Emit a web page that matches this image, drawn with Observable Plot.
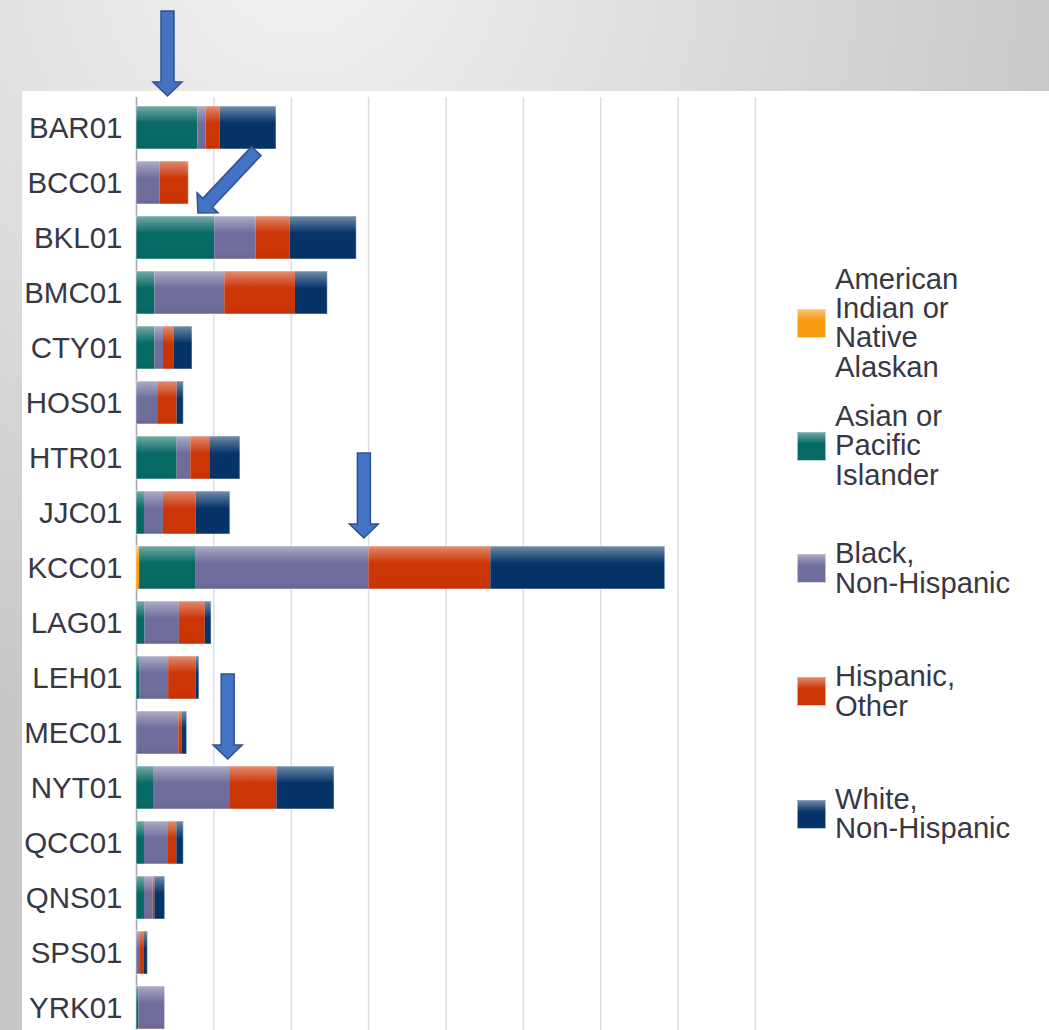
<!DOCTYPE html>
<html><head><meta charset="utf-8">
<script src="https://cdn.jsdelivr.net/npm/d3@7"></script>
<script src="https://cdn.jsdelivr.net/npm/@observablehq/plot@0.6"></script>
<style>
html,body{margin:0;padding:0;width:1049px;height:1030px;overflow:hidden;}
body{position:relative;background:radial-gradient(circle 1000px at 300px -50px,#f2f2f2 0%,#c7c7c7 80%);font-family:"Liberation Sans",Arial,sans-serif;}
#panel{position:absolute;left:22px;top:91px;right:0;bottom:0;background:#fff;}
#chart{position:absolute;left:0;top:0;}
#legend{position:absolute;left:797px;top:262px;}
.item{height:122.75px;display:flex;align-items:center;}
.sw{width:29px;height:29px;margin-right:9px;flex:none;box-sizing:border-box;border:1px solid rgba(255,255,255,.55);}
.lab{font-size:29.2px;line-height:29.4px;color:#383844;}
</style></head><body>
<div id="panel"></div><div id="chart"></div><div id="legend"></div>
<script>
// ---- data ----
const schools = ["BAR01","BCC01","BKL01","BMC01","CTY01","HOS01","HTR01","JJC01","KCC01","LAG01","LEH01","MEC01","NYT01","QCC01","QNS01","SPS01","YRK01"];
const groups = ["American Indian or Native Alaskan","Asian or Pacific Islander","Black, Non-Hispanic","Hispanic, Other","White, Non-Hispanic"];
const legendLines = [["American","Indian or","Native","Alaskan"],["Asian or","Pacific","Islander"],["Black,","Non-Hispanic"],["Hispanic,","Other"],["White,","Non-Hispanic"]];
const american = [0,0,0,0,0,0,0,0,40,0,0,0,0,0,0,0,0];
const asian    = [792,0,1012,237,237,0,525,103,732,110,40,0,220,103,103,0,30];
const black    = [108,306,534,904,112,284,177,245,2232,444,375,547,995,310,112,52,340];
const hispanic = [181,370,439,913,134,241,245,422,1575,335,358,43,599,108,22,43,0];
const white    = [728,0,861,418,241,86,396,443,2255,81,40,65,745,90,134,52,0];
const gridTicks = [0,1000,2000,3000,4000,5000,6000,7000,8000];
// annotation arrows: row pointed at, value on x, rotation
const arrowRows = ["BAR01","BKL01","KCC01","NYT01"];
const arrowValues = [407,801,2945,1185];
const arrowAngles = [0,43.3,0,0];

// ---- styles ----
const colors = ["#f99a0e","#086a65","#6e6d9c","#cc3505","#063468"];
const arrowGap = [-10,-3,-8,-7];

const series = [american, asian, black, hispanic, white];
const rows = [];
schools.forEach((s,i)=>groups.forEach((g,j)=>rows.push({school:s, group:g, value:series[j][i]})));
const totals = schools.map((s,i)=>({school:s, total:series.reduce((a,v)=>a+v[i],0)}));

function defsMark(){
  const defs = d3.create("svg:defs");
  const lg = defs.append("linearGradient").attr("id","shine").attr("x1",0).attr("y1",0).attr("x2",0).attr("y2",1);
  [[0,"#fff",0.45],[0.1,"#fff",0.32],[0.4,"#fff",0.0],[0.85,"#000",0.0],[1,"#000",0.06]].forEach(([o,c,a])=>
    lg.append("stop").attr("offset",o).attr("stop-color",c).attr("stop-opacity",a));
  return defs.node();
}
function arrowMark(index, scales){
  const g = d3.create("svg:g");
  const L=85, sw=6.5, hw=14.5, hl=14;
  const pts = [[0,0],[-hw,-hl],[-sw,-hl],[-sw,-L],[sw,-L],[sw,-hl],[hw,-hl]];
  arrowRows.forEach((r,i)=>{
    const tx = scales.x(arrowValues[i]), ty = scales.y(r) + arrowGap[i];
    g.append("polygon").attr("points", pts.map(p=>p.join(",")).join(" "))
      .attr("transform",`translate(${tx},${ty}) rotate(${arrowAngles[i]})`)
      .attr("fill","#4472c4").attr("stroke","#2f528f").attr("stroke-width",1.5).attr("stroke-linejoin","miter");
  });
  return g.node();
}

const plot = Plot.plot({
  width:1049, height:1037,
  marginLeft:136, marginRight:294, marginTop:97, marginBottom:0,
  style:{background:"transparent", overflow:"visible", fontFamily:"'Liberation Sans', Arial, sans-serif"},
  x:{domain:[0,8000], axis:null},
  y:{domain:schools, axis:null, paddingInner:0.22, paddingOuter:0.11},
  color:{domain:groups, range:colors},
  marks:[
    defsMark,
    Plot.ruleX(gridTicks.slice(1), {stroke:"#dedeea", strokeWidth:1.6}),
    Plot.ruleX([0], {stroke:"#a6a6bc", strokeWidth:1.6}),
    Plot.barX(rows, {x:"value", y:"school", fill:"group"}),
    Plot.barX(rows, {x:"value", y:"school", fill:"url(#shine)"}),
    Plot.barX(totals, {x:"total", y:"school", fill:"none", stroke:"#ffffff", strokeOpacity:0.5, strokeWidth:1}),
    Plot.text(schools, {x:0, y:d=>d, text:d=>d, textAnchor:"end", dx:-14, dy:1, fontSize:29.5, fill:"#383844"}),
    arrowMark
  ]
});
document.getElementById("chart").appendChild(plot);

const legend = document.getElementById("legend");
groups.forEach((g,j)=>{
  const it = document.createElement("div"); it.className="item";
  const sw = document.createElement("div"); sw.className="sw";
  sw.style.background = `linear-gradient(to bottom, rgba(255,255,255,.4), rgba(255,255,255,0) 40%), ${colors[j]}`;
  const lab = document.createElement("div"); lab.className="lab";
  lab.innerHTML = legendLines[j].join("<br>");
  it.appendChild(sw); it.appendChild(lab); legend.appendChild(it);
});
</script>
</body></html>
